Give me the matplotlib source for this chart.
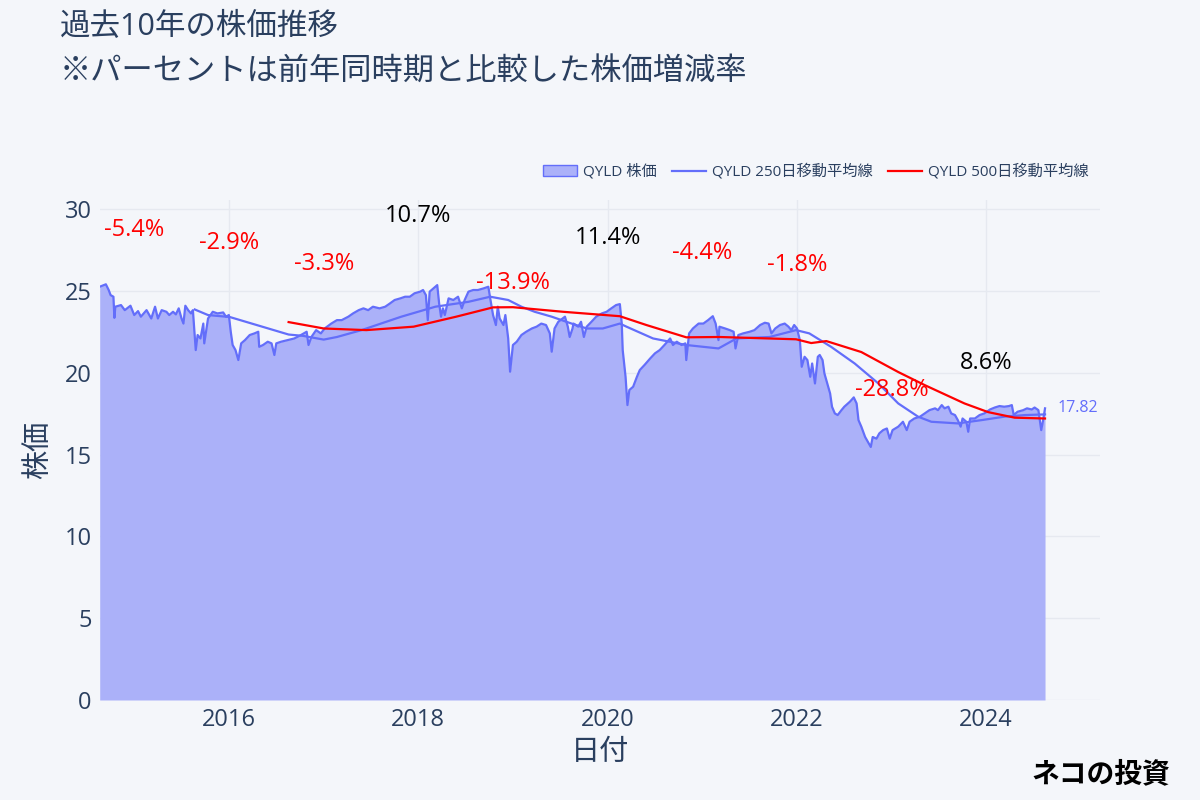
import matplotlib
matplotlib.use("Agg")
import matplotlib.pyplot as plt
import matplotlib.dates as mdates
from matplotlib.patches import Patch
from matplotlib.lines import Line2D
import numpy as np
import pandas as pd

plt.rcParams['font.family'] = ['Open Sans', 'Noto Sans CJK JP', 'DejaVu Sans']

# QYLD price (decimal year, price)
price_t = [2014.635, 2014.70, 2014.73, 2014.75, 2014.78, 2014.79, 2014.80, 2014.86, 2014.90, 2014.96,
           2015.00, 2015.04, 2015.07, 2015.13, 2015.18, 2015.22, 2015.25, 2015.29, 2015.34, 2015.37,
           2015.41, 2015.44, 2015.47, 2015.50, 2015.52, 2015.54, 2015.57, 2015.60, 2015.62, 2015.65,
           2015.67, 2015.70, 2015.73, 2015.74, 2015.78, 2015.83, 2015.88, 2015.94, 2015.97, 2016.00,
           2016.02, 2016.04, 2016.07, 2016.10, 2016.13, 2016.17, 2016.22, 2016.27, 2016.31, 2016.32,
           2016.36, 2016.41, 2016.45, 2016.48, 2016.50, 2016.55, 2016.62, 2016.69, 2016.76, 2016.82,
           2016.84, 2016.87, 2016.92, 2016.97, 2017.01, 2017.08, 2017.14, 2017.19, 2017.26, 2017.31,
           2017.37, 2017.42, 2017.47, 2017.52, 2017.59, 2017.65, 2017.70, 2017.75, 2017.81, 2017.86,
           2017.91, 2017.96, 2018.02, 2018.05, 2018.08, 2018.10, 2018.12, 2018.18, 2018.20, 2018.22,
           2018.24, 2018.26, 2018.28, 2018.32, 2018.37, 2018.42, 2018.46, 2018.49, 2018.53, 2018.58,
           2018.63, 2018.69, 2018.74, 2018.76, 2018.79, 2018.82, 2018.84, 2018.86, 2018.90, 2018.92,
           2018.95, 2018.97, 2019.00, 2019.04, 2019.09, 2019.14, 2019.20, 2019.25, 2019.30, 2019.35,
           2019.39, 2019.41, 2019.44, 2019.48, 2019.55, 2019.58, 2019.60, 2019.63, 2019.64, 2019.69,
           2019.72, 2019.75, 2019.78, 2019.83, 2019.88, 2019.94, 2019.99, 2020.04, 2020.09, 2020.13,
           2020.15, 2020.16, 2020.19, 2020.21, 2020.23, 2020.27, 2020.31, 2020.34, 2020.39, 2020.45,
           2020.50, 2020.55, 2020.60, 2020.66, 2020.69, 2020.73, 2020.78, 2020.82, 2020.83, 2020.86,
           2020.90, 2020.96, 2021.01, 2021.06, 2021.11, 2021.14, 2021.17, 2021.18, 2021.24, 2021.29,
           2021.33, 2021.35, 2021.38, 2021.43, 2021.50, 2021.55, 2021.61, 2021.66, 2021.70, 2021.73,
           2021.77, 2021.82, 2021.87, 2021.91, 2021.94, 2021.97, 2022.00, 2022.03, 2022.05, 2022.08,
           2022.11, 2022.14, 2022.16, 2022.19, 2022.22, 2022.24, 2022.27, 2022.29, 2022.32, 2022.35,
           2022.37, 2022.40, 2022.43, 2022.47, 2022.50, 2022.56, 2022.60, 2022.63, 2022.65, 2022.68,
           2022.72, 2022.75, 2022.78, 2022.80, 2022.84, 2022.87, 2022.91, 2022.95, 2022.98, 2023.01,
           2023.07, 2023.12, 2023.16, 2023.19, 2023.24, 2023.30, 2023.35, 2023.40, 2023.46, 2023.49,
           2023.53, 2023.56, 2023.60, 2023.63, 2023.67, 2023.70, 2023.73, 2023.75, 2023.79, 2023.81,
           2023.83, 2023.88, 2023.93, 2023.98, 2024.04, 2024.09, 2024.14, 2024.19, 2024.24, 2024.27,
           2024.29, 2024.33, 2024.39, 2024.43, 2024.48, 2024.51, 2024.55, 2024.56, 2024.58, 2024.60,
           2024.62]
price_v = [25.25, 25.40, 25.05, 24.74, 24.64, 23.35, 24.03, 24.13, 23.82, 24.09,
           23.52, 23.76, 23.42, 23.82, 23.31, 24.03, 23.31, 23.82, 23.72, 23.52,
           23.72, 23.56, 23.93, 23.31, 23.00, 24.09, 23.82, 23.62, 23.82, 21.38,
           22.30, 22.09, 23.00, 21.79, 23.31, 23.72, 23.62, 23.68, 23.42, 23.52,
           22.50, 21.69, 21.38, 20.77, 21.79, 21.99, 22.30, 22.40, 22.50, 21.58,
           21.69, 21.89, 21.79, 21.08, 21.79, 21.89, 21.99, 22.09, 22.30, 22.50,
           21.69, 22.18, 22.60, 22.40, 22.70, 23.00, 23.21, 23.21, 23.42, 23.62,
           23.82, 23.93, 23.82, 24.03, 23.93, 24.03, 24.23, 24.44, 24.54, 24.64,
           24.64, 24.85, 24.95, 25.05, 24.74, 23.21, 24.95, 25.25, 25.35, 24.23,
           23.42, 23.93, 23.52, 24.54, 24.44, 24.64, 23.93, 24.44, 24.95, 25.05,
           25.05, 25.15, 25.25, 24.54, 23.52, 22.91, 24.03, 23.31, 22.91, 23.52,
           22.09, 20.06, 21.69, 21.89, 22.30, 22.50, 22.70, 22.81, 23.00, 22.91,
           22.40, 21.28, 22.70, 23.11, 23.42, 22.81, 22.18, 22.70, 23.00, 22.81,
           23.11, 22.18, 22.81, 23.11, 23.42, 23.62, 23.72, 23.93, 24.13, 24.19,
           23.00, 21.38, 19.75, 18.02, 18.94, 19.14, 19.75, 20.16, 20.47, 20.87,
           21.18, 21.38, 21.69, 22.09, 21.69, 21.89, 21.69, 21.79, 20.77, 22.40,
           22.70, 23.00, 23.00, 23.21, 23.45, 23.00, 21.99, 22.81, 22.70, 22.60,
           22.50, 21.48, 22.30, 22.40, 22.50, 22.60, 22.91, 23.05, 23.00, 22.40,
           22.70, 22.91, 23.00, 22.81, 22.60, 22.91, 22.70, 21.99, 20.36, 20.97,
           20.77, 19.75, 20.56, 19.34, 20.97, 21.08, 20.77, 19.95, 19.34, 18.73,
           17.92, 17.51, 17.41, 17.71, 17.92, 18.23, 18.49, 18.12, 17.10, 16.70,
           16.07, 15.77, 15.46, 16.07, 15.97, 16.29, 16.49, 16.59, 15.97, 16.49,
           16.70, 17.00, 16.49, 17.00, 17.20, 17.31, 17.51, 17.71, 17.82, 17.71,
           18.02, 17.82, 17.92, 17.51, 17.41, 17.10, 16.70, 17.20, 17.00, 16.39,
           17.20, 17.20, 17.41, 17.51, 17.75, 17.87, 17.96, 17.92, 17.96, 18.02,
           17.41, 17.61, 17.71, 17.82, 17.75, 17.87, 17.71, 17.31, 16.49, 17.10,
           17.82]

# 250-day moving average
ma250_t = [2015.64, 2015.78, 2016.01, 2016.63, 2016.78, 2017.00, 2017.14, 2017.40, 2017.82, 2018.18,
           2018.53, 2018.76, 2018.95, 2019.09, 2019.23, 2019.41, 2019.62, 2019.78, 2019.95, 2020.13,
           2020.20, 2020.48, 2020.83, 2021.17, 2021.36, 2021.71, 2021.99, 2022.13, 2022.36, 2022.61,
           2022.86, 2023.07, 2023.28, 2023.42, 2023.70, 2023.95, 2024.19, 2024.41, 2024.62]
ma250_v = [23.86, 23.52, 23.40, 22.33, 22.25, 22.02, 22.18, 22.60, 23.42, 24.03,
           24.33, 24.64, 24.44, 24.03, 23.72, 23.42, 23.00, 22.70, 22.70, 23.00,
           22.81, 22.09, 21.69, 21.48, 22.09, 22.18, 22.60, 22.40, 21.58, 20.56,
           19.34, 18.12, 17.31, 17.00, 16.90, 17.10, 17.31, 17.41, 17.45]

# 500-day moving average
ma500_t = [2016.63, 2017.00, 2017.45, 2017.95, 2018.40, 2018.79, 2019.00, 2019.53, 2020.13, 2020.41,
           2020.83, 2021.18, 2021.99, 2022.15, 2022.31, 2022.68, 2023.07, 2023.35, 2023.77, 2024.02,
           2024.30, 2024.62]
ma500_v = [23.09, 22.70, 22.60, 22.81, 23.42, 23.99, 24.00, 23.72, 23.45, 22.91,
           22.16, 22.18, 22.04, 21.81, 21.93, 21.26, 20.04, 19.24, 18.12, 17.59,
           17.25, 17.20]

# year-over-year change labels (Jan 1 of each year) and their heights
label_years = [2015, 2016, 2017, 2018, 2019, 2020, 2021, 2022, 2023, 2024]
label_pct = [-5.4, -2.9, -3.3, 10.7, -13.9, 11.4, -4.4, -1.8, -28.8, 8.6]
label_y = [28.71, 27.94, 26.67, 29.59, 25.47, 28.22, 27.31, 26.57, 18.97, 20.57]


def to_date(years):
    out = []
    for y in years:
        yi = int(np.floor(y))
        start = pd.Timestamp(year=yi, month=1, day=1)
        days = (pd.Timestamp(year=yi + 1, month=1, day=1) - start).days
        out.append(start + pd.Timedelta(days=(y - yi) * days))
    return pd.to_datetime(out)


bg = '#F4F6FA'
blue = '#636EFA'
fill = '#ABB1F9'
navy = '#2A3F5F'

fig = plt.figure(figsize=(12, 8), dpi=100, facecolor=bg)
ax = fig.add_axes([100 / 1200, 100 / 800, 1000 / 1200, 500 / 800])
ax.set_facecolor(bg)

pt = to_date(price_t)
ax.fill_between(pt, price_v, 0, color=fill, lw=0, zorder=2)
ax.plot(pt, price_v, color=blue, lw=1.6, zorder=3)
ax.plot(to_date(ma250_t), ma250_v, color=blue, lw=1.6, zorder=4)
ax.plot(to_date(ma500_t), ma500_v, color='red', lw=1.6, zorder=5)

for yr, pct, yy in zip(label_years, label_pct, label_y):
    col = 'red' if pct < 0 else 'black'
    ax.text(pd.Timestamp(year=yr, month=1, day=1), yy, f'{pct:.1f}%', color=col,
            fontsize=17, ha='center', va='center', zorder=6)

ax.annotate(f'{price_v[-1]:.2f}', (pt[-1], price_v[-1]), xytext=(9, 0),
            textcoords='offset points', color=blue, fontsize=11.5, va='center', ha='left')

ax.set_xlim(to_date([2014.638])[0], to_date([2025.20])[0])
ax.set_ylim(0, 30.55)
ax.set_yticks([0, 5, 10, 15, 20, 25, 30])
ax.xaxis.set_major_locator(mdates.YearLocator(2))
ax.xaxis.set_major_formatter(mdates.DateFormatter('%Y'))
ax.grid(True, color='#E6E9F0', lw=1, zorder=0)
ax.set_axisbelow(True)
for s in ax.spines.values():
    s.set_visible(False)
ax.tick_params(length=0, labelsize=17, labelcolor=navy, pad=6)
ax.set_xlabel('日付', fontsize=21, color=navy, labelpad=4)
ax.set_ylabel('株価', fontsize=21, color=navy, labelpad=8)

fig.text(60 / 1200, 1 - 27 / 800, '過去10年の株価推移', fontsize=22, color=navy, va='center', ha='left')
fig.text(60 / 1200, 1 - 72 / 800, '※パーセントは前年同時期と比較した株価増減率', fontsize=22.5, color=navy,
         va='center', ha='left')

handles = [Patch(facecolor=fill, edgecolor=blue, lw=1),
           Line2D([], [], color=blue, lw=1.6),
           Line2D([], [], color='red', lw=1.6)]
names = ['QYLD 株価', 'QYLD 250日移動平均線', 'QYLD 500日移動平均線']
fig.legend(handles, names, loc='center right', bbox_to_anchor=(1102 / 1200, 1 - 172 / 800), ncol=3,
           frameon=False, fontsize=11, labelcolor=navy, handlelength=2.2, handletextpad=0.4,
           columnspacing=1.0)

fig.text(1170 / 1200, 1 - 775 / 800, 'ネコの投資', fontsize=20, fontweight='bold', color='black',
         ha='right', va='center')

fig.savefig('out.png', dpi=100, facecolor=bg)
